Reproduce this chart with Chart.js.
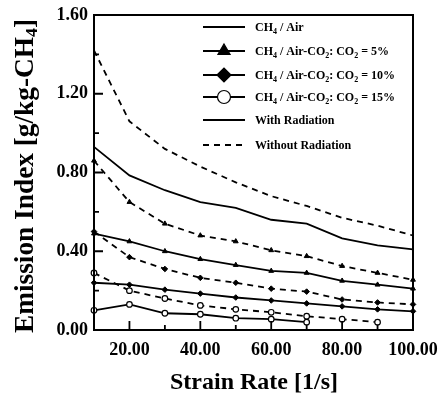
<!DOCTYPE html>
<html>
<head>
<meta charset="utf-8">
<script src="https://cdn.jsdelivr.net/npm/chart.js@4.4.0/dist/chart.umd.min.js"></script>
<style>
  html, body { margin: 0; padding: 0; background: #fff; }
  #wrap { width: 444px; height: 395px; position: relative; }
</style>
</head>
<body>
<div id="wrap"><canvas id="c" width="444" height="395"></canvas></div>
<script>
// Strain rate [1/s]
const strainRate = [10, 20, 30, 40, 50, 60, 70, 80, 90, 100];

// Emission index [g/kg-CH4]
const ch4AirRad     = [0.93, 0.785, 0.71, 0.65, 0.62, 0.56, 0.54, 0.465, 0.43, 0.41];
const ch4AirNoRad   = [1.42, 1.06, 0.92, 0.83, 0.75, 0.68, 0.63, 0.57, 0.53, 0.48];
const co2p5Rad      = [0.49, 0.45, 0.40, 0.36, 0.33, 0.30, 0.29, 0.25, 0.23, 0.21];
const co2p5NoRad    = [0.86, 0.65, 0.54, 0.48, 0.45, 0.405, 0.375, 0.325, 0.29, 0.255];
const co2p10Rad     = [0.24, 0.23, 0.205, 0.185, 0.165, 0.15, 0.135, 0.12, 0.105, 0.095];
const co2p10NoRad   = [0.50, 0.37, 0.31, 0.265, 0.24, 0.21, 0.195, 0.155, 0.14, 0.13];
const co2p15Rad     = [0.10, 0.13, 0.085, 0.08, 0.06, 0.055, 0.04];
const co2p15NoRad   = [0.29, 0.20, 0.16, 0.125, 0.105, 0.09, 0.07, 0.055, 0.04];

// Axis ticks
const xMajorTicks = [20, 40, 60, 80, 100];
const xMinorTicks = [30, 50, 70, 90];
const yMajorTicks = [0.4, 0.8, 1.2];
const yMinorTicks = [0.2, 0.6, 1.0, 1.4];

const SERIF = '"Liberation Serif", "Times New Roman", serif';
const DASH = [6, 5];

function pts(values) {
  return values.map((v, i) => ({ x: strainRate[i], y: v }));
}

function series(values, dashed, style) {
  return {
    data: pts(values),
    borderColor: '#000',
    borderWidth: 1.8,
    borderDash: dashed ? DASH : [],
    fill: false,
    tension: 0,
    clip: false,
    pointStyle: style || 'circle',
    pointRadius: style ? 2.8 : 0,
    pointBorderWidth: style === 'circle' ? 1.2 : 1,
    pointBackgroundColor: style === 'circle' ? '#fff' : '#000',
    pointBorderColor: '#000'
  };
}

// legend rows: text as runs of [string, isSubscript]
const legendRows = [
  { runs: [['CH', 0], ['4', 1], [' / Air', 0]], dashed: false, marker: null },
  { runs: [['CH', 0], ['4', 1], [' / Air-CO', 0], ['2', 1], [': CO', 0], ['2', 1], [' = 5%', 0]], dashed: false, marker: 'triangle' },
  { runs: [['CH', 0], ['4', 1], [' / Air-CO', 0], ['2', 1], [': CO', 0], ['2', 1], [' = 10%', 0]], dashed: false, marker: 'rectRot' },
  { runs: [['CH', 0], ['4', 1], [' / Air-CO', 0], ['2', 1], [': CO', 0], ['2', 1], [' = 15%', 0]], dashed: false, marker: 'circle' },
  { runs: [['With Radiation', 0]], dashed: false, marker: null },
  { runs: [['Without Radiation', 0]], dashed: true, marker: null }
];

function drawRuns(ctx, runs, x, y, size, subSize, subDrop) {
  let cx = x;
  for (const [s, sub] of runs) {
    ctx.font = 'bold ' + (sub ? subSize : size) + 'px ' + SERIF;
    ctx.fillText(s, cx, y + (sub ? subDrop : 0));
    cx += ctx.measureText(s).width;
  }
  return cx - x;
}

function runsWidth(ctx, runs, size, subSize) {
  let w = 0;
  for (const [s, sub] of runs) {
    ctx.font = 'bold ' + (sub ? subSize : size) + 'px ' + SERIF;
    w += ctx.measureText(s).width;
  }
  return w;
}

const framePlugin = {
  id: 'frameAndTicks',
  afterDatasetsDraw(chart) {
    const { ctx, chartArea: a, scales } = chart;
    const xs = scales.x, ys = scales.y;
    ctx.save();
    ctx.strokeStyle = '#000';
    ctx.lineWidth = 2;
    ctx.strokeRect(a.left, a.top, a.right - a.left, a.bottom - a.top);
    ctx.lineWidth = 1.8;
    ctx.beginPath();
    xMajorTicks.forEach(v => { const p = xs.getPixelForValue(v); ctx.moveTo(p, a.bottom); ctx.lineTo(p, a.bottom - 9); });
    xMinorTicks.forEach(v => { const p = xs.getPixelForValue(v); ctx.moveTo(p, a.bottom); ctx.lineTo(p, a.bottom - 5); });
    yMajorTicks.forEach(v => { const p = ys.getPixelForValue(v); ctx.moveTo(a.left, p); ctx.lineTo(a.left + 9, p); });
    yMinorTicks.forEach(v => { const p = ys.getPixelForValue(v); ctx.moveTo(a.left, p); ctx.lineTo(a.left + 5, p); });
    ctx.stroke();
    ctx.restore();
  }
};

const legendPlugin = {
  id: 'customLegend',
  afterDraw(chart) {
    const ctx = chart.ctx;
    const rowY = [27, 51, 75, 97, 120, 145];
    const x0 = 203, x1 = 245, tx = 255;
    ctx.save();
    ctx.fillStyle = '#000';
    ctx.strokeStyle = '#000';
    ctx.textBaseline = 'alphabetic';
    legendRows.forEach((r, i) => {
      const y = rowY[i];
      ctx.lineWidth = 1.8;
      ctx.setLineDash(r.dashed ? DASH : []);
      ctx.beginPath();
      ctx.moveTo(x0, y);
      ctx.lineTo(x1, y);
      ctx.stroke();
      ctx.setLineDash([]);
      if (r.marker) {
        const isCircle = r.marker === 'circle';
        ctx.fillStyle = isCircle ? '#fff' : '#000';
        ctx.lineWidth = 1.2;
        Chart.helpers.drawPoint(ctx, {
          pointStyle: r.marker,
          radius: r.marker === 'circle' ? 6.5 : 7,
          borderWidth: 1.2
        }, (x0 + x1) / 2, y);
        ctx.fillStyle = '#000';
      }
      drawRuns(ctx, r.runs, tx, y + 4, 12, 8, 3);
    });
    ctx.restore();
  }
};

const titlePlugin = {
  id: 'axisTitles',
  afterDraw(chart) {
    const ctx = chart.ctx;
    ctx.save();
    ctx.fillStyle = '#000';
    ctx.textBaseline = 'alphabetic';
    // x title
    const xRuns = [['Strain Rate [1/s]', 0]];
    const xw = runsWidth(ctx, xRuns, 24, 16);
    drawRuns(ctx, xRuns, 254 - xw / 2, 389, 24, 16, 5);
    // y title, rotated; sized to span the plot height
    const yRuns = [['Emission Index [g/kg-CH', 0], ['4', 1], [']', 0]];
    const w25 = runsWidth(ctx, yRuns, 25, 16);
    const ySize = 25 * 314 / w25;
    const ySub = ySize * 0.65;
    const yw = runsWidth(ctx, yRuns, ySize, ySub);
    ctx.translate(33, 176);
    ctx.rotate(-Math.PI / 2);
    drawRuns(ctx, yRuns, -yw / 2, 0, ySize, ySub, 4);
    ctx.restore();
  }
};

new Chart(document.getElementById('c'), {
  type: 'line',
  data: {
    datasets: [
      series(ch4AirRad, false, null),
      series(ch4AirNoRad, true, null),
      series(co2p5Rad, false, 'triangle'),
      series(co2p5NoRad, true, 'triangle'),
      series(co2p10Rad, false, 'rectRot'),
      series(co2p10NoRad, true, 'rectRot'),
      series(co2p15Rad, false, 'circle'),
      series(co2p15NoRad, true, 'circle')
    ]
  },
  options: {
    responsive: false,
    animation: false,
    devicePixelRatio: 1,
    layout: { padding: { top: 9, right: 31, left: 0, bottom: 0 } },
    plugins: { legend: { display: false }, tooltip: { enabled: false } },
    scales: {
      x: {
        type: 'linear',
        min: 10,
        max: 100,
        grid: { display: false, drawTicks: false },
        border: { display: false },
        afterBuildTicks(scale) { scale.ticks = xMajorTicks.map(v => ({ value: v })); },
        afterFit(scale) {
          scale.height = 65;
          // the end labels fit inside the layout padding
          scale.paddingLeft = 0;
          scale.paddingRight = 0;
        },
        ticks: {
          color: '#000',
          padding: 11,
          maxRotation: 0,
          font: { family: SERIF, size: 18, weight: 'bold', lineHeight: 1 },
          callback: v => Number(v).toFixed(2)
        }
      },
      y: {
        min: 0,
        max: 1.6,
        grid: { display: false, drawTicks: false },
        border: { display: false },
        afterFit(scale) { scale.width = 94; },
        ticks: {
          color: '#000',
          stepSize: 0.4,
          padding: 6,
          font: { family: SERIF, size: 18, weight: 'bold', lineHeight: 1 },
          callback: v => Number(v).toFixed(2)
        }
      }
    }
  },
  plugins: [framePlugin, legendPlugin, titlePlugin]
});
</script>
</body>
</html>
